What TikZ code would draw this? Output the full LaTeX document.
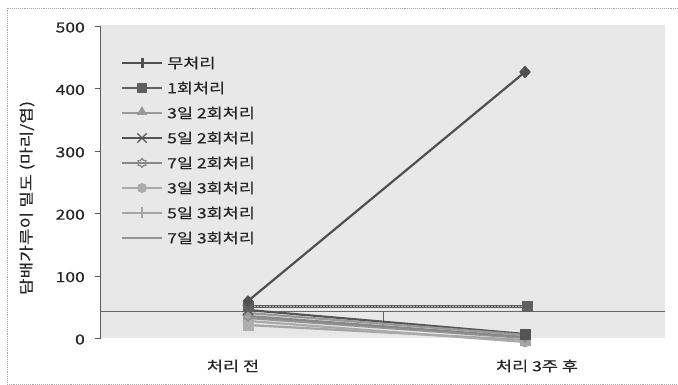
\documentclass[tikz,border=0pt]{standalone}
\usepackage{fontspec}
\setmainfont[FakeStretch=1.25,FakeBold=0.4]{Noto Sans CJK KR}
\usetikzlibrary{shapes.geometric,shapes.misc}
\definecolor{plotbg}{HTML}{E8E8E8}
\definecolor{sA}{HTML}{505050}
\definecolor{sB}{HTML}{606060}
\definecolor{sC}{HTML}{999999}
\definecolor{sD}{HTML}{555555}
\definecolor{sE}{HTML}{888888}
\definecolor{sF}{HTML}{AAAAAA}
\definecolor{sG}{HTML}{A5A5A5}
\definecolor{sH}{HTML}{959595}
\tikzset{
  txt/.style={font=\fontsize{14}{16}\selectfont, text=black!85, inner sep=0pt},
  serline/.style={line width=2.2pt},
  mkdia/.style={diamond, fill=#1, inner sep=0pt, minimum width=11pt, minimum height=12pt},
  mksq/.style={rectangle, fill=#1, inner sep=0pt, minimum size=11pt},
  mktri/.style={isosceles triangle, isosceles triangle apex angle=60, shape border rotate=90, fill=#1, inner sep=0pt, minimum size=10pt},
  mkcirc/.style={circle, fill=#1, inner sep=0pt, minimum size=11pt},
  mkcross/.style={cross out, draw=#1, line width=1.3pt, inner sep=0pt, minimum size=9pt},
  mkstar/.style={star, star points=6, draw=#1, line width=1.2pt, inner sep=0pt, minimum size=10pt},
}
\begin{document}
\begin{tikzpicture}[x=1pt,y=-1pt]
\useasboundingbox (0,0) rectangle (678,385);
% outer frame
\draw[black!35, line width=0.9pt, densely dotted] (678,8) -- (7,8) -- (7,384) -- (678,384);
% plot area
\fill[plotbg] (100,25) rectangle (665,338);
% y axis
\draw[black!65, line width=1pt] (100,26.5) -- (100,338.5);
\foreach \v/\yy in {0/338.5,100/276.1,200/213.7,300/151.3,400/88.9,500/26.5}{
  \draw[black!65, line width=1pt] (95,\yy) -- (100,\yy);
  \node[txt, anchor=east] (yl\v) at (85,\yy+1) {\v};
}
% horizontal axis line
\coordinate (axL) at (100,311.5);
\coordinate (axR) at (665,311.5);
\coordinate (tk1) at (383,311.5);
\coordinate (tk2) at (383,323);
\draw[black!60, line width=1.3pt] (axL) -- (axR);
\draw[black!60, line width=1pt] (tk1) -- (tk2);
% axis titles
\node[txt, rotate=90, font=\fontsize{14.5}{16}\selectfont] (ytitle) at (27,198) {담배가루이 밀도 (마리/엽)};
\node[txt] (xa) at (233,366) {처리 전};
\node[txt] (xb) at (537,366) {처리 3주 후};
% series coordinates
\coordinate (A1) at (248,301); \coordinate (A2) at (525,72);
\coordinate (B1) at (248,306.5); \coordinate (B2) at (527,306.5);
\coordinate (C1) at (248,313); \coordinate (C2) at (525,335);
\coordinate (D1) at (248,310); \coordinate (D2) at (525,334);
\coordinate (E1) at (248,316); \coordinate (E2) at (525,337);
\coordinate (F1) at (248,321); \coordinate (F2) at (525,342);
\coordinate (G1) at (248,325); \coordinate (G2) at (525,340);
\coordinate (H1) at (248,318); \coordinate (H2) at (525,338);
\draw[serline, sH] (H1) -- (H2);
\draw[serline, sG] (G1) -- (G2);
\draw[serline, sF] (F1) -- (F2);
\draw[serline, sE] (E1) -- (E2);
\draw[serline, sD] (D1) -- (D2);
\draw[serline, sC] (C1) -- (C2);
\draw[serline, sB] (B1) -- (B2);
\draw[black!30, line width=0.6pt, dash pattern=on 1.5pt off 1.5pt] (B1) -- (B2);
\draw[serline, sA] (A1) -- (A2);
% markers
\node[mkcirc=sF] (mF1) at (F1) {};
\node[mksq=sG!90] (mG1) at (G1) {};
\node[mkstar=sE] (mE1) at (E1) {};
\node[mktri=sC] (mC1) at (C1) {};
\node[mkcross=sD] (mD1) at (D1) {};
\node[mksq=sB] (mB1) at (B1) {};
\node[mkdia=sA] (mA1) at (A1) {};
\node[mkcirc=sF] (mF2) at (F2) {};
\node[mksq=sG] (mG2) at (G2) {};
\node[mkstar=sE] (mE2) at (E2) {};
\node[mktri=sC] (mC2) at (C2) {};
\node[mksq=sD] (mD2) at (D2) {};
\node[mksq=sB] (mB2) at (B2) {};
\node[mkdia=sA, minimum width=12pt, minimum height=13pt] (mA2) at (A2) {};
% legend
\foreach \i/\col/\lab in {0/sA/무처리,1/sB/1회처리,2/sC/3일 2회처리,3/sD/5일 2회처리,4/sE/7일 2회처리,5/sF/3일 3회처리,6/sG/5일 3회처리,7/sH/7일 3회처리}{
  \coordinate (lg\i a) at (122,63+25*\i);
  \coordinate (lg\i b) at (162,63+25*\i);
  \draw[\col, line width=2pt] (lg\i a) -- (lg\i b);
  \node[txt, anchor=west] (lt\i) at (167,63+25*\i) {\lab};
}
\node[rectangle, fill=sA, inner sep=0pt, minimum width=3pt, minimum height=10pt] (lm0) at (142,63) {};
\node[mksq=sB, minimum size=10pt] (lm1) at (142,88) {};
\node[mktri=sC, minimum size=9pt] (lm2) at (142,112) {};
\node[mkcross=sD, minimum size=8pt] (lm3) at (142,138) {};
\node[mkstar=sE, minimum size=9pt] (lm4) at (142,163) {};
\node[mkcirc=sF, minimum size=10pt] (lm5) at (142,188) {};
\node[rectangle, fill=sG, inner sep=0pt, minimum width=2pt, minimum height=11pt] (lm6) at (142,213) {};
\end{tikzpicture}
\end{document}
